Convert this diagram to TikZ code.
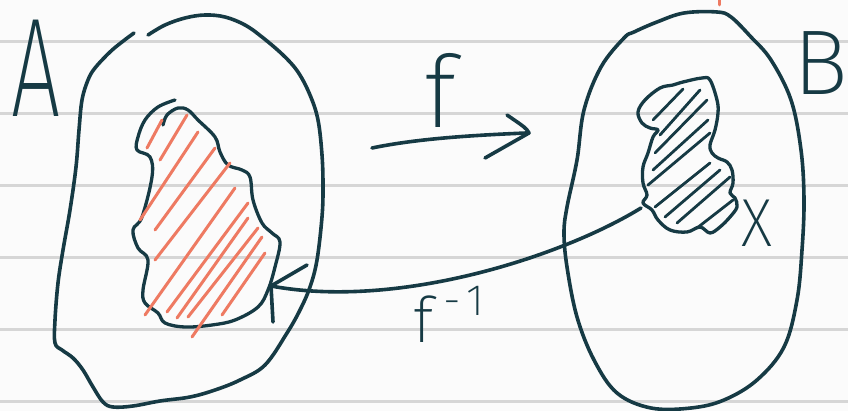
\documentclass[tikz,border=0pt]{standalone}
\usepackage{fontspec}
\IfFontExistsTF{Fira Sans ExtraLight}{\newfontfamily\handfont{Fira Sans ExtraLight}}{%
  \IfFontExistsTF{Fira Sans Light}{\newfontfamily\handfont{Fira Sans Light}}{%
    \IfFontExistsTF{DejaVu Sans ExtraLight}{\newfontfamily\handfont{DejaVu Sans ExtraLight}}{%
      \IfFontExistsTF{Lato Light}{\newfontfamily\handfont{Lato Light}}{\newfontfamily\handfont{Fira Sans}}}}}
\usepackage{xcolor}
\definecolor{InkTeal}{HTML}{163A44}
\definecolor{HatchRed}{HTML}{EE7A62}
\definecolor{PaperBg}{HTML}{FBFBFB}
\definecolor{RuleGray}{HTML}{D6D6D6}
\usepackage{tikz}
\usetikzlibrary{arrows.meta,positioning}
\tikzset{
  sketchline/.style={
    draw=InkTeal,
    line width=3.6pt,
    line cap=round,
    line join=round
  },
  sketchhatch/.style={
    draw=HatchRed,
    line width=3pt,
    line cap=round
  },
  inkhatch/.style={
    draw=InkTeal,
    line width=2.8pt,
    line cap=round
  },
  sketchlabel/.style={
    text=InkTeal,
    inner sep=0pt,
    font=\handfont
  },
  sketchrule/.style={
    draw=RuleGray,
    line width=2.6pt
  }
}

\begin{document}
\begin{tikzpicture}[x=1pt,y=-1pt]
  \fill[PaperBg] (0,0) rectangle (848,411);
  \useasboundingbox (0,0) rectangle (848,411);
  \foreach \ry in {41.7,113.7,185.7,257.7,329.7,401.7}{\draw[sketchrule] (0,\ry) -- (848,\ry);}
  % set A
  \draw[sketchline] plot[smooth, tension=0.6] coordinates {(134,33) (122,42) (110,52) (95,68) (88,80) (82,100) (79,130) (76,167) (70,210) (63,250) (58,283) (55,320) (55,343) (62,350) (73,358) (83,370) (93,387) (103,402) (113,407) (133,406) (160,401) (190,397) (215,390) (240,380) (265,365) (287,333) (300,310) (310,287) (317,260) (322,217) (323,187) (322,155) (318,120) (310,95) (298,72) (283,55) (262,37) (245,25) (225,17) (205,15) (185,18) (165,25) (148,35)};
  % preimage, red
  \draw[sketchline, line width=3.3pt] plot[smooth, tension=0.6] coordinates {(175,100) (158,107) (145,120) (138,137) (137,150) (150,157) (152,177) (142,217) (133,230) (138,248) (148,260) (143,290) (145,303) (158,313) (165,323) (185,327) (212,325) (235,320) (258,307) (268,290) (275,267) (280,242) (272,233) (262,223) (253,200) (250,177) (242,170) (228,165) (220,152) (215,137) (198,120) (188,110) (178,108) (167,115) (163,125)};
  \foreach \ax/\ay/\bx/\by in {147/148/162/120, 160/160/187/115, 140/220/198/132, 155/230/215/148, 155/260/230/163, 145/315/235/188, 167/312/248/203, 177/318/248/218, 188/317/258/228, 192/337/262/237, 222/315/265/253}
    {\draw[sketchhatch] (\ax,\ay) -- (\bx,\by);}
  % set B
  \draw[sketchline] plot[smooth cycle, tension=0.6] coordinates {(624,38) (601,67) (584,110) (577,160) (567,207) (564,233) (567,267) (577,317) (594,360) (617,393) (651,408) (691,408) (724,400) (757,380) (784,347) (797,300) (802,250) (804,200) (801,150) (791,100) (771,60) (751,37) (731,17) (717,12) (684,13) (657,22) (634,32)};
  \draw[sketchhatch] (719,0) -- (719,5);
  % subset X
  \draw[sketchline, line width=3.3pt] plot[smooth cycle, tension=0.6] coordinates {(673,85) (660,88) (645,100) (638,112) (642,123) (650,128) (658,130) (653,137) (648,153) (643,167) (643,183) (647,195) (643,203) (652,210) (658,220) (670,230) (687,232) (700,227) (710,233) (720,227) (730,217) (737,207) (735,198) (730,193) (733,183) (732,170) (727,162) (718,158) (712,153) (710,145) (715,130) (718,113) (717,100) (710,80) (702,78) (683,82)};
  \foreach \ax/\ay/\bx/\by in {653/120/683/89, 660/135/700/90, 655/153/707/100, 653/170/708/120, 648/185/710/133, 655/207/710/163, 665/217/720/170, 677/223/730/177, 697/228/733/200}
    {\draw[inkhatch] (\ax,\ay) -- (\bx,\by);}
  % labels
  \node[sketchlabel, anchor=base] (labelA) at (36,117) {\fontsize{141}{141}\selectfont\scalebox{0.62}[1]{A}};
  \node[sketchlabel, anchor=base] (labelB) at (821,95) {\fontsize{92}{92}\selectfont B};
  \node[sketchlabel, anchor=base] (labelX) at (757,247) {\fontsize{68}{68}\selectfont\scalebox{0.9}[1]{X}};
  \node[sketchlabel, anchor=base] (labelf) at (440,128) {\fontsize{100}{100}\selectfont f};
  \node[sketchlabel, anchor=base west] (labelfinv) at (413,342) {\fontsize{63}{63}\selectfont f\hspace{10pt}\raisebox{27pt}{\fontsize{44}{44}\selectfont -\hspace{6pt}1}};
  % f arrow
  \coordinate (ftail) at (372,148);
  \coordinate (fhead) at (526,133);
  \draw[sketchline] (ftail) .. controls (420,138) and (480,135) .. (fhead);
  \draw[sketchline] ([shift={(-19,-18)}]fhead) .. controls ([shift={(0,-5)}]fhead) .. ([shift={(3,0)}]fhead) -- ([shift={(-41,25)}]fhead);
  % inverse arrow
  \coordinate (xfoot) at (641,208);
  \coordinate (preimgtip) at (271,286);
  \draw[sketchline] (xfoot) .. controls (565,255) and (400,310) .. (preimgtip);
  \draw[sketchline] ([shift={(36,-21)}]preimgtip) -- (preimgtip) -- ([shift={(2,36)}]preimgtip);
\end{tikzpicture}
\end{document}
